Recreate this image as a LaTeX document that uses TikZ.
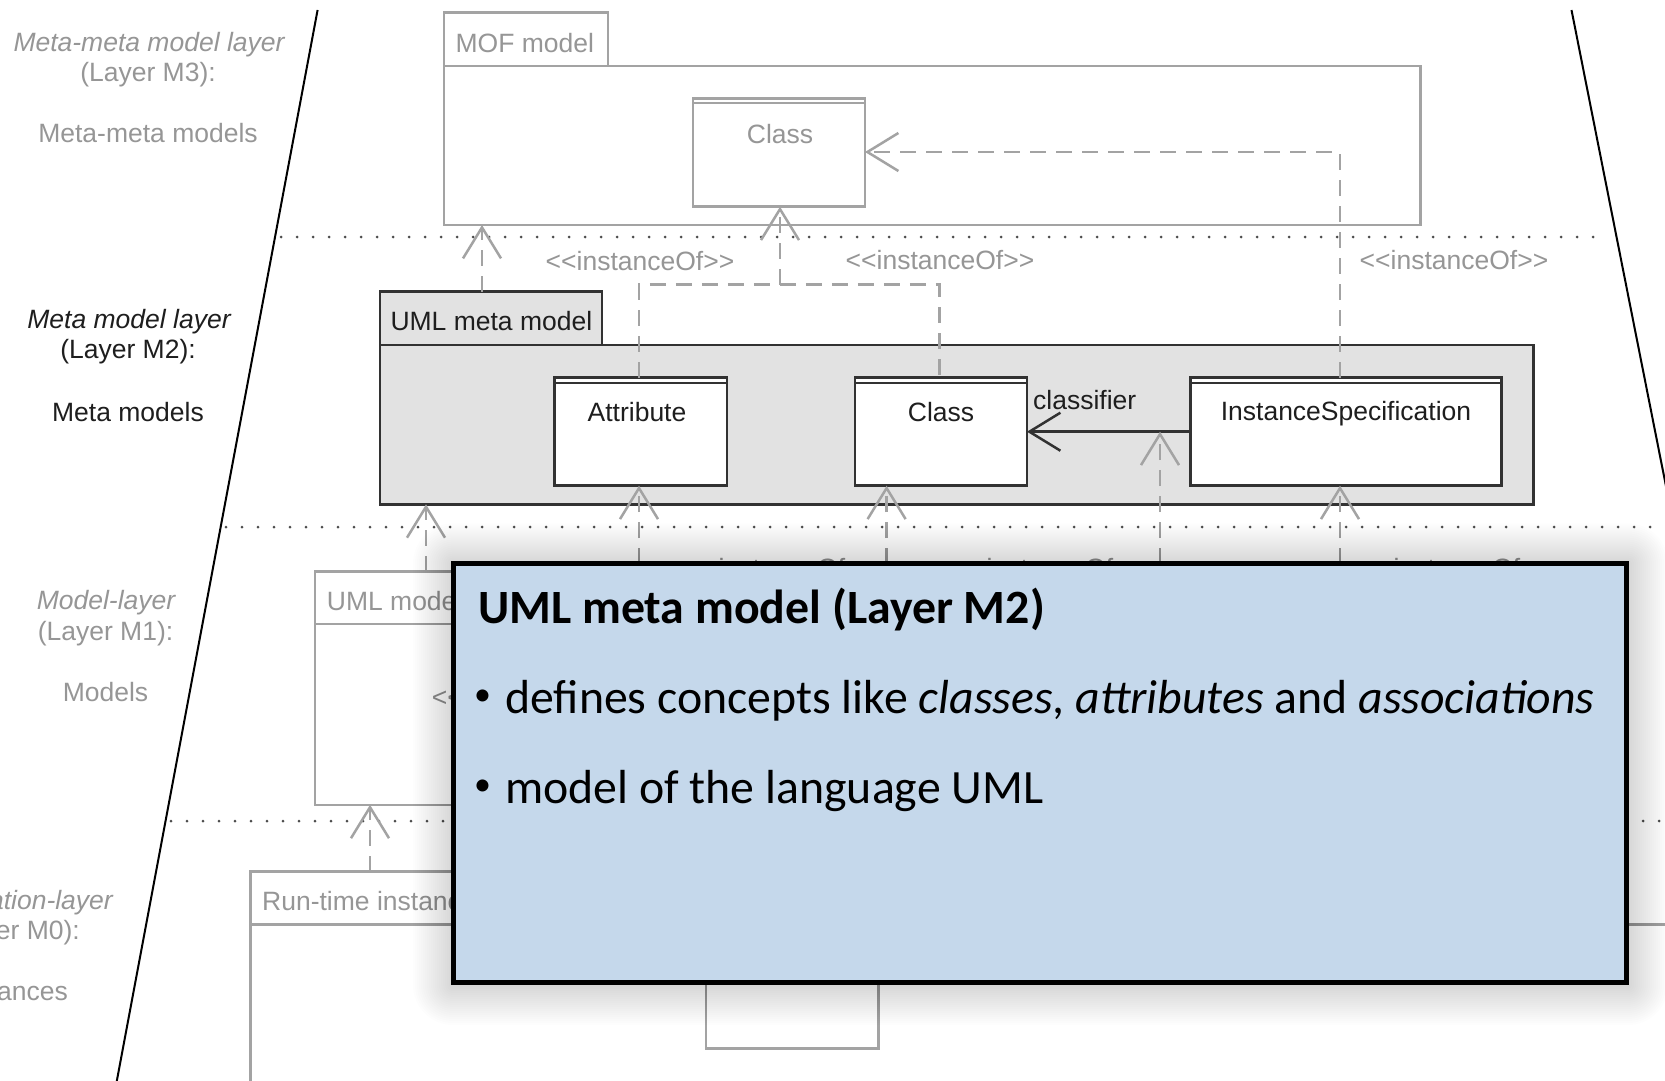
\documentclass[tikz,border=0pt]{standalone}
\usepackage{fontspec}
\setmainfont{Liberation Sans}
\newfontfamily\calfont{Carlito}
\usetikzlibrary{arrows.meta}
\definecolor{lg}{RGB}{163,163,163}
\definecolor{gt}{RGB}{150,150,150}
\definecolor{dg}{RGB}{50,50,50}
\definecolor{dt}{RGB}{30,30,30}
\definecolor{mfill}{RGB}{226,226,226}
\definecolor{ovl}{RGB}{197,216,235}
\newcommand\umlfont{\fontsize{26.5}{31}\selectfont}
\newcommand\ovlfont{\fontsize{47.8}{56}\selectfont}
\newcommand\instof{\textless\kern0pt\textless instanceOf\textgreater\kern0pt\textgreater}
\begin{document}
\begin{tikzpicture}[x=1pt,y=-1pt,
  box/.style={rectangle,inner sep=0pt,outer sep=0pt,line width=2.5pt},
  gbox/.style={box,draw=lg,fill=white},
  dbox/.style={box,draw=dg},
  gtxt/.style={font=\umlfont,text=gt,inner sep=0pt},
  dtxt/.style={font=\umlfont,text=dt,inner sep=0pt},
  dashln/.style={dash pattern=on 16pt off 10pt},
  tipv/.style={-{Straight Barb[length=31pt,width=38pt]}},
  gconn/.style={draw=lg,line width=2.5pt},
  dconn/.style={draw=dg,line width=2.5pt},
  dotln/.style={draw=black!70,line width=3pt,line cap=round,dash pattern=on 0pt off 16pt},
  ovltxt/.style={anchor=base west,inner sep=0pt,font=\calfont\ovlfont,text=black},
  bul/.style={inner sep=0pt,font=\calfont\fontsize{34}{34}\selectfont,text=black},
]
\clip (0,0) rectangle (1665,1081);
\fill[white] (0,0) rectangle (1665,1081);

% frame lines
\coordinate (fl1) at (317.6,10); \coordinate (fl2) at (116.8,1081);
\coordinate (fr1) at (1571.5,10); \coordinate (fr2) at (1784,1081);
\draw[line width=2pt] (fl1) -- (fl2);
\draw[line width=2pt] (fr1) -- (fr2);

% layer separators
\coordinate (d1a) at (281,237); \coordinate (d1b) at (1608,237);
\coordinate (d2a) at (226,527); \coordinate (d2b) at (1665,527);
\coordinate (d3a) at (171,821); \coordinate (d3b) at (1665,821);
\draw[dotln] (d1a) -- (d1b);
\draw[dotln] (d2a) -- (d2b);
\draw[dotln] (d3a) -- (d3b);

% left labels
\node[gtxt,font=\umlfont\itshape] (l3a) at (149,45) {Meta-meta model layer};
\node[gtxt] (l3b) at (148,75) {(Layer M3):};
\node[gtxt] (l3c) at (148,133) {Meta-meta models};
\node[dtxt,font=\umlfont\itshape] (l2a) at (129,322) {Meta model layer};
\node[dtxt] (l2b) at (128,352) {(Layer M2):};
\node[dtxt] (l2c) at (128,412) {Meta models};
\node[gtxt,font=\umlfont\itshape] (l1a) at (106,603) {Model-layer};
\node[gtxt] (l1b) at (105.5,634) {(Layer M1):};
\node[gtxt] (l1c) at (105.5,692) {Models};
\node[gtxt,font=\umlfont\itshape,anchor=east] (l0a) at (113,903) {Instantiation-layer};
\node[gtxt,anchor=east] (l0b) at (80,933) {(Layer M0):};
\node[gtxt,anchor=east] (l0c) at (68,992) {Instances};

% M3
\node[gbox,minimum width=164pt,minimum height=53.3pt] (moftab) at (526,39.35) {};
\node[gbox,minimum width=976.7pt,minimum height=159pt] (mof) at (932.35,145.5) {};
\node[gtxt,anchor=west] (moft) at (455.4,43) {MOF model};
\node[gbox,minimum width=172pt,minimum height=108.4pt] (cls3) at (779,152.5) {};
\draw[draw=lg,line width=2pt] ([yshift=-5pt]cls3.north west) -- ([yshift=-5pt]cls3.north east);
\node[gtxt] (cls3t) at (780,134) {Class};

% M2
\node[dbox,fill=mfill,minimum width=222pt,minimum height=53.3pt] (m2tab) at (491,318.35) {};
\node[dbox,fill=mfill,minimum width=1153.6pt,minimum height=159.3pt] (m2) at (956.8,424.65) {};
\node[dtxt,anchor=west] (m2t) at (390.3,321) {UML meta model};
\node[dbox,fill=white,minimum width=172.4pt,minimum height=108pt] (attr) at (640.8,431.7) {};
\node[dbox,fill=white,minimum width=172pt,minimum height=108pt] (cls2) at (941,431.7) {};
\node[dbox,fill=white,minimum width=311.1pt,minimum height=108pt] (is) at (1346.05,431.7) {};
\draw[draw=dg,line width=2pt] ([yshift=-5pt]attr.north west) -- ([yshift=-5pt]attr.north east);
\draw[draw=dg,line width=2pt] ([yshift=-5pt]cls2.north west) -- ([yshift=-5pt]cls2.north east);
\draw[draw=dg,line width=2pt] ([yshift=-5pt]is.north west) -- ([yshift=-5pt]is.north east);
\node[dtxt] (attrt) at (637,412) {Attribute};
\node[dtxt] (cls2t) at (941,412) {Class};
\node[dtxt] (ist) at (1346,414) {InstanceSpecification};
\draw[dconn,tipv] (is.west) -- (cls2.east);
\node[dtxt,anchor=west] (clf) at (1033,400) {classifier};

% M1
\node[gbox,minimum width=157pt,minimum height=52.1pt] (umltab) at (393.5,597.75) {};
\node[gbox,minimum width=1185pt,minimum height=181pt] (umlmodel) at (907.5,714.3) {};
\node[gtxt,anchor=west] (umlt) at (326.7,601) {UML model};

% M0
\node[gbox,minimum width=249.3pt,minimum height=52.8pt] (runtab) at (375.35,898.1) {};
\node[gbox,minimum width=1469.3pt,minimum height=195.5pt] (runbody) at (985.35,1022.25) {};
\node[gtxt,anchor=west] (runt) at (262,901.5) {Run-time instances};
\node[gbox,minimum width=172.3pt,minimum height=118.3pt] (inner0) at (792.15,989.15) {};

% connector helper coordinates
\coordinate (cx1) at (482,0);
\coordinate (cx2) at (639,0);
\coordinate (cx3) at (780,0);
\coordinate (cx4) at (939.5,0);
\coordinate (cx5) at (1340,0);
\coordinate (cx6) at (426,0);
\coordinate (cx7) at (886.6,0);
\coordinate (cx8) at (1160,0);
\coordinate (cx9) at (370,0);
\coordinate (jy) at (0,284.6);
\coordinate (hy) at (0,152);
\coordinate (low) at (0,720);

% instanceOf connectors
\draw[gconn,dashln] (cx2 |- attr.north) -- (cx2 |- jy) -- (cx4 |- jy) -- (cx4 |- cls2.north);
\draw[gconn,dashln,tipv] (cx3 |- jy) -- (cx3 |- cls3.south);
\draw[gconn,dashln,tipv] (cx5 |- is.north) -- (cx5 |- hy) -- (cls3.east |- hy);
\draw[gconn,dashln,tipv] (cx1 |- m2tab.north) -- (cx1 |- mof.south);
\draw[gconn,dashln,tipv] (cx6 |- umltab.north) -- (cx6 |- m2.south);
\draw[gconn,dashln,tipv] (cx2 |- low) -- (cx2 |- attr.south);
\draw[gconn,dashln,tipv] (cx7 |- low) -- (cx7 |- cls2.south);
\draw[gconn,dashln,tipv] (cx8 |- low) -- (cx8 |- is.west);
\draw[gconn,dashln,tipv] (cx5 |- low) -- (cx5 |- is.south);
\draw[gconn,dashln,tipv] (cx9 |- runtab.north) -- (cx9 |- umlmodel.south);

% instanceOf labels
\node[gtxt] (io1) at (640,261) {\instof};
\node[gtxt] (io2) at (940,260) {\instof};
\node[gtxt] (io3) at (1454,260) {\instof};
\node[gtxt,anchor=base] (io4) at (782,577) {\instof};
\node[gtxt,anchor=base] (io5) at (1050,577) {\instof};
\node[gtxt,anchor=base] (io6) at (1457,577) {\instof};
\begin{scope}
\clip (0,560) rectangle (452,760);
\node[gtxt,anchor=west] (io7) at (431.7,699) {\textless\kern0pt\textless};
\end{scope}

% overlay shadow (soft, layered)
\coordinate (ovnw) at (453,563.5);
\coordinate (ovse) at (1626,982);
\foreach \r in {2,4,...,40} {
  \fill[black,opacity=0.0065,rounded corners=\r pt]
    ([xshift=-\r pt,yshift=\r pt]ovnw) rectangle ([xshift=\r pt+2pt,yshift=-\r pt-3pt]ovse);
}
% overlay
\node[rectangle,draw=black,line width=5pt,fill=ovl,inner sep=0pt,
  minimum width=1173pt,minimum height=418.5pt] (ovl) at (1039.5,772.75) {};
\node[ovltxt,font=\calfont\ovlfont\bfseries] (t0) at (478,623.5) {UML meta model (Layer M2)};
\node[bul] (b1) at (482.5,697.5) {•};
\node[ovltxt] (t1) at (505,713.3) {defines concepts like \textit{classes}, \textit{attributes} and \textit{associations}};
\node[bul] (b2) at (482.5,787.5) {•};
\node[ovltxt] (t2) at (505,803.3) {model of the language UML};
\end{tikzpicture}
\end{document}
